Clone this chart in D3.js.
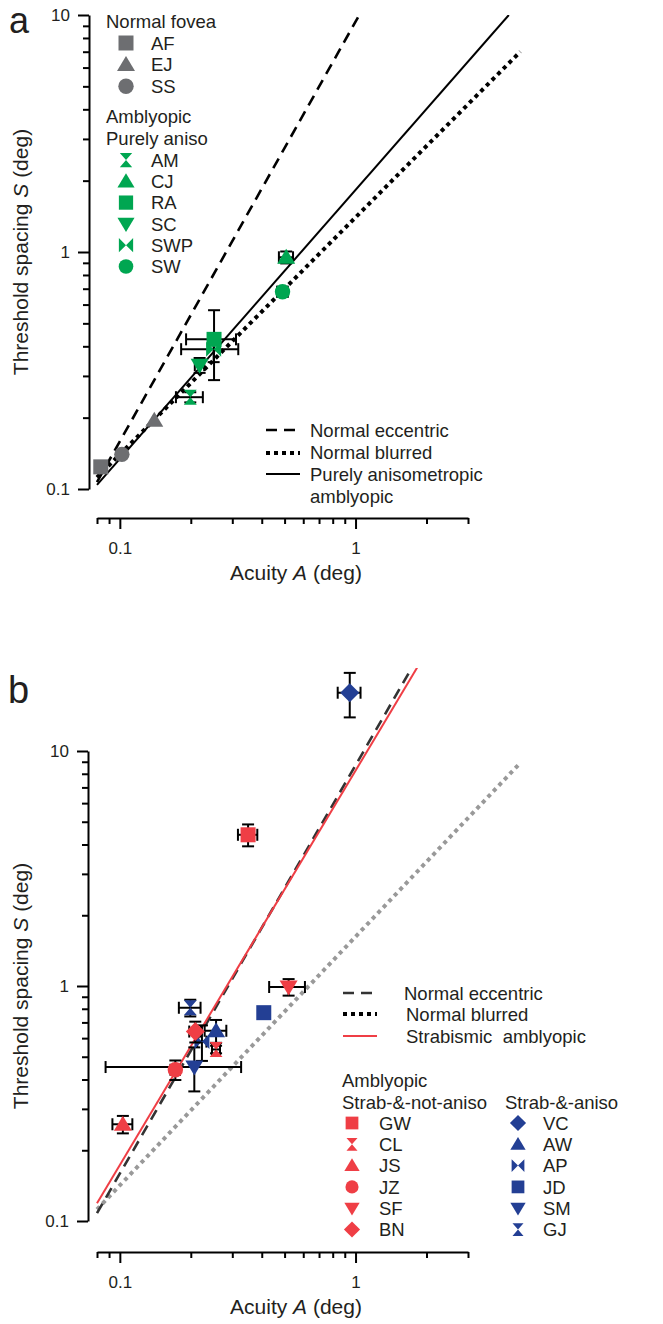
<!DOCTYPE html>
<html>
<head>
<meta charset="utf-8">
<script src="https://cdn.jsdelivr.net/npm/d3@7"></script>
<style>
  html, body { margin: 0; padding: 0; background: #fff; }
  svg { display: block; font-family: "Liberation Sans", Arial, Helvetica, sans-serif; }
</style>
</head>
<body>
<svg id="chart" width="663" height="1324"></svg>
<script>
// ---- data -------------------------------------------------------------
// Axis ticks
const majorTicks = [0.1, 1, 10];
const majorTickLabels = ["0.1", "1", "10"];
const xMinorTicks = [0.08, 0.09, 0.2, 0.3, 0.4, 0.5, 0.6, 0.7, 0.8, 0.9, 2, 3];
const yMinorTicks = [0.2, 0.3, 0.4, 0.5, 0.6, 0.7, 0.8, 0.9, 2, 3, 4, 5, 6, 7, 8, 9];

// Panel a: normal fovea
const foveaNames = ["AF", "EJ", "SS"];
const foveaShapes = ["square", "triangle", "circle"];
const foveaA = [0.083, 0.140, 0.102];
const foveaS = [0.124, 0.195, 0.140];

// Panel a: purely anisometropic amblyopes
const anisoNames = ["AM", "CJ", "RA", "SC", "SWP", "SW"];
const anisoShapes = ["hourglass", "triangle", "square", "triangleDown", "bowtie", "circle"];
const anisoA = [0.199, 0.508, 0.251, 0.218, 0.250, 0.490];
const anisoS = [0.244, 0.950, 0.428, 0.333, 0.389, 0.680];
const anisoErrA = [0.026, 0.035, 0.060, 0.010, 0.068, 0.025];
const anisoErrS = [0.012, 0.055, 0.140, 0.024, 0.046, 0.033];

// Panel b: strabismic, not anisometropic
const strabNames = ["GW", "CL", "JS", "JZ", "SF", "BN"];
const strabShapes = ["square", "hourglass", "triangle", "circle", "triangleDown", "diamond"];
const strabA = [0.350, 0.256, 0.103, 0.172, 0.520, 0.209];
const strabS = [4.40, 0.537, 0.258, 0.440, 0.990, 0.640];
const strabErrA = [0.033, 0.010, 0.010, 0.008, 0.090, 0.012];
const strabErrS = [0.470, 0.020, 0.022, 0.042, 0.080, 0.065];

// Panel b: strabismic and anisometropic
const strabAnisoNames = ["VC", "AW", "AP", "JD", "SM", "GJ"];
const strabAnisoShapes = ["diamond", "triangle", "bowtie", "square", "triangleDown", "hourglass"];
const strabAnisoA = [0.945, 0.256, 0.223, 0.408, 0.207, 0.199];
const strabAnisoS = [17.7, 0.645, 0.580, 0.770, 0.452, 0.808];
const strabAnisoErrA = [0.105, 0.027, 0.010, 0, 0.120, 0.021];
const strabAnisoErrS = [3.8, 0.072, 0.100, 0, 0.096, 0.066];

// Fitted lines (acuity, spacing end points)
const eccentricA = [0.08, 2.0];
const eccentricS = [0.107, 32.0];
const eccentricBA = [0.08, 2.0];
const eccentricBS = [0.108, 29.0];
const blurredA = [0.08, 5.0];
const blurredS = [0.112, 7.0];
const blurredBA = [0.08, 5.0];
const blurredBS = [0.112, 8.9];
const anisoLineA = [0.08, 4.47];
const anisoLineS = [0.104, 10.0];
const strabLineA = [0.08, 2.0];
const strabLineS = [0.119, 26.4];

// ---- styling ----------------------------------------------------------
const GREEN = "#00a651", GRAY = "#6d6e71", RED = "#ef3e45", BLUE = "#233f94";
const INK = "#231f20";
const LEGEND_FONT = 18.5;

const svg = d3.select("#chart");

// Marker outline for each shape, centred on 0,0
function shapePath(shape, k = 1) {
  const p = d3.path();
  const s = v => v * k;
  switch (shape) {
    case "square":
      p.rect(s(-7.5), s(-7.5), s(15), s(15)); break;
    case "circle":
      p.arc(0, 0, s(7.7), 0, 2 * Math.PI); break;
    case "triangle":
      p.moveTo(0, s(-8.5)); p.lineTo(s(9), s(6.5)); p.lineTo(s(-9), s(6.5)); p.closePath(); break;
    case "triangleDown":
      p.moveTo(0, s(8.5)); p.lineTo(s(9), s(-6.5)); p.lineTo(s(-9), s(-6.5)); p.closePath(); break;
    case "diamond":
      p.moveTo(0, s(-9.5)); p.lineTo(s(9.5), 0); p.lineTo(0, s(9.5)); p.lineTo(s(-9.5), 0); p.closePath(); break;
    case "hourglass":
      p.moveTo(s(-6.5), s(-7.5)); p.lineTo(s(6.5), s(-7.5)); p.lineTo(0, 0); p.closePath();
      p.moveTo(s(-6.5), s(7.5)); p.lineTo(s(6.5), s(7.5)); p.lineTo(0, 0); p.closePath(); break;
    case "bowtie":
      p.moveTo(s(-7.5), s(-7.5)); p.lineTo(s(-7.5), s(7.5)); p.lineTo(0, 0); p.closePath();
      p.moveTo(s(7.5), s(-7.5)); p.lineTo(s(7.5), s(7.5)); p.lineTo(0, 0); p.closePath(); break;
  }
  return p.toString();
}

const x = d3.scaleLog().domain([0.08, 3]).range([97, 468]);

function drawPanel(cfg) {
  const { y, yAxisX, xAxisY, clipTop, id } = cfg;
  const g = svg.append("g");

  // y axis
  g.append("g")
    .attr("transform", `translate(${yAxisX},0)`)
    .call(d3.axisLeft(y).tickValues(yMinorTicks).tickSize(6).tickSizeOuter(0).tickFormat(""))
    .call(a => a.select(".domain").remove());
  g.append("g")
    .attr("transform", `translate(${yAxisX},0)`)
    .call(d3.axisLeft(y).tickValues(majorTicks).tickSize(11).tickSizeOuter(0)
      .tickFormat((d, i) => majorTickLabels[i]).tickPadding(8))
    .call(a => a.selectAll("text").attr("font-size", 17).attr("fill", INK).attr("font-family", null));

  // x axis
  g.append("g")
    .attr("transform", `translate(0,${xAxisY})`)
    .call(d3.axisBottom(x).tickValues(xMinorTicks).tickSize(6).tickSizeOuter(0).tickFormat(""))
    .call(a => a.select(".domain").remove());
  g.append("g")
    .attr("transform", `translate(0,${xAxisY})`)
    .call(d3.axisBottom(x).tickValues(majorTicks.slice(0, 2)).tickSize(11).tickSizeOuter(0)
      .tickFormat((d, i) => majorTickLabels[i]).tickPadding(13))
    .call(a => a.selectAll("text").attr("font-size", 17).attr("fill", INK).attr("font-family", null));

  g.selectAll(".domain, .tick line").attr("stroke", "#000").attr("stroke-width", 2);

  // axis titles
  const xt = g.append("text")
    .attr("x", 296).attr("y", xAxisY + 62)
    .attr("text-anchor", "middle").attr("font-size", 21).attr("fill", INK);
  xt.append("tspan").text("Acuity ");
  xt.append("tspan").attr("font-style", "italic").text("A");
  xt.append("tspan").text(" (deg)");

  const ymid = (y.range()[0] + y.range()[1]) / 2;
  const yt = g.append("text")
    .attr("transform", `translate(28,${ymid}) rotate(-90)`)
    .attr("text-anchor", "middle").attr("font-size", 21).attr("fill", INK);
  yt.append("tspan").text("Threshold spacing ");
  yt.append("tspan").attr("font-style", "italic").text("S");
  yt.append("tspan").text(" (deg)");

  // clip for fitted lines
  svg.append("clipPath").attr("id", id)
    .append("rect").attr("x", 0).attr("y", clipTop).attr("width", 663).attr("height", 1324);

  return g;
}

function drawLine(g, As, Ss, y, style, clipId) {
  const pts = As.map((a, i) => [a, Ss[i]]);
  const line = d3.line().x(d => x(d[0])).y(d => y(d[1]));
  g.append("path")
    .attr("d", line(pts))
    .attr("clip-path", `url(#${clipId})`)
    .attr("fill", "none")
    .attr("stroke", style.color)
    .attr("stroke-width", style.width)
    .attr("stroke-dasharray", style.dash || null);
}

function drawPoints(g, names, shapes, As, Ss, errA, errS, y, color) {
  const data = names.map((n, i) => ({ n, shape: shapes[i], A: As[i], S: Ss[i],
    eA: errA ? errA[i] : 0, eS: errS ? errS[i] : 0 }));
  const cap = 6;
  const eb = g.append("g").attr("stroke", "#000").attr("stroke-width", 2).attr("fill", "none");
  data.forEach(d => {
    const cx = x(d.A), cy = y(d.S);
    if (d.eA > 0) {
      const x0 = x(d.A - d.eA), x1 = x(d.A + d.eA);
      eb.append("line").attr("x1", x0).attr("x2", x1).attr("y1", cy).attr("y2", cy);
      eb.append("line").attr("x1", x0).attr("x2", x0).attr("y1", cy - cap).attr("y2", cy + cap);
      eb.append("line").attr("x1", x1).attr("x2", x1).attr("y1", cy - cap).attr("y2", cy + cap);
    }
    if (d.eS > 0) {
      const y0 = y(d.S - d.eS), y1 = y(d.S + d.eS);
      eb.append("line").attr("x1", cx).attr("x2", cx).attr("y1", y0).attr("y2", y1);
      eb.append("line").attr("x1", cx - cap).attr("x2", cx + cap).attr("y1", y0).attr("y2", y0);
      eb.append("line").attr("x1", cx - cap).attr("x2", cx + cap).attr("y1", y1).attr("y2", y1);
    }
  });
  g.append("g").selectAll("path").data(data).join("path")
    .attr("transform", d => `translate(${x(d.A)},${y(d.S)})`)
    .attr("d", d => shapePath(d.shape))
    .attr("fill", color);
}

function legendItems(g, names, shapes, color, x0, tx, y0, dy, k) {
  names.forEach((n, i) => {
    const yy = y0 + i * dy;
    g.append("path").attr("transform", `translate(${x0},${yy})`)
      .attr("d", shapePath(shapes[i], k)).attr("fill", color);
    g.append("text").attr("x", tx).attr("y", yy).attr("dy", "0.36em")
      .attr("font-size", LEGEND_FONT).attr("fill", INK).text(n);
  });
}

function legendText(g, x0, y0, txt, size = LEGEND_FONT) {
  g.append("text").attr("x", x0).attr("y", y0).attr("dy", "0.36em")
    .attr("font-size", size).attr("fill", INK).style("white-space", "pre").text(txt);
}

function legendLine(g, x0, x1, yy, style) {
  g.append("line").attr("x1", x0).attr("x2", x1).attr("y1", yy).attr("y2", yy)
    .attr("stroke", style.color).attr("stroke-width", style.width)
    .attr("stroke-dasharray", style.dash || null);
}

// ---- panel a ----------------------------------------------------------
const ya = d3.scaleLog().domain([0.1, 10]).range([489, 15]);
const ga = drawPanel({ y: ya, yAxisX: 89, xAxisY: 518, clipTop: 15, id: "clipA" });

svg.append("text").attr("x", 9).attr("y", 33).attr("font-size", 36).attr("fill", INK).text("a");

const dashA = { color: "#000", width: 2.6, dash: "11,7" };
const dotA = { color: "#000", width: 4, dash: "4,4" };
const solidA = { color: "#000", width: 2 };
drawLine(ga, eccentricA, eccentricS, ya, dashA, "clipA");
drawLine(ga, blurredA, blurredS, ya, dotA, "clipA");
drawLine(ga, anisoLineA, anisoLineS, ya, solidA, "clipA");

drawPoints(ga, foveaNames, foveaShapes, foveaA, foveaS, null, null, ya, GRAY);
drawPoints(ga, anisoNames, anisoShapes, anisoA, anisoS, anisoErrA, anisoErrS, ya, GREEN);

legendText(ga, 106, 21, "Normal fovea");
legendItems(ga, foveaNames, foveaShapes, GRAY, 126, 151, 43, 21.6, 1);
legendText(ga, 106, 116, "Amblyopic");
legendText(ga, 106, 138, "Purely aniso");
legendItems(ga, anisoNames, anisoShapes, GREEN, 126, 151, 160, 21.3, 0.95);

legendLine(ga, 266, 300, 430, dashA);
legendLine(ga, 266, 300, 453, dotA);
legendLine(ga, 266, 300, 474, solidA);
legendText(ga, 310, 430, "Normal eccentric");
legendText(ga, 310, 452, "Normal blurred");
legendText(ga, 310, 474, "Purely anisometropic");
legendText(ga, 310, 496, "amblyopic");

// ---- panel b ----------------------------------------------------------
const yb = d3.scaleLog().domain([0.1, 10]).range([1221, 751]);
const gb = drawPanel({ y: yb, yAxisX: 88, xAxisY: 1252, clipTop: 668, id: "clipB" });

svg.append("text").attr("x", 8).attr("y", 703).attr("font-size", 38).attr("fill", INK).text("b");

const dashB = { color: "#333", width: 2.6, dash: "11,7" };
const dotB = { color: "#999", width: 4, dash: "4,4" };
const dotBLegend = { color: "#000", width: 4, dash: "4,4" };
const redB = { color: RED, width: 2 };
drawLine(gb, blurredBA, blurredBS, yb, dotB, "clipB");
drawLine(gb, eccentricBA, eccentricBS, yb, dashB, "clipB");
drawLine(gb, strabLineA, strabLineS, yb, redB, "clipB");

drawPoints(gb, strabAnisoNames, strabAnisoShapes, strabAnisoA, strabAnisoS, strabAnisoErrA, strabAnisoErrS, yb, BLUE);
drawPoints(gb, strabNames, strabShapes, strabA, strabS, strabErrA, strabErrS, yb, RED);

legendLine(gb, 343, 377, 993, dashB);
legendLine(gb, 343, 377, 1014, dotBLegend);
legendLine(gb, 343, 377, 1036, redB);
legendText(gb, 404, 993, "Normal eccentric");
legendText(gb, 406, 1014, "Normal blurred");
legendText(gb, 406, 1036, "Strabismic  amblyopic");

legendText(gb, 342, 1080, "Amblyopic");
legendText(gb, 342, 1102, "Strab-&-not-aniso");
legendText(gb, 505, 1102, "Strab-&-aniso");
legendItems(gb, strabNames, strabShapes, RED, 352, 379, 1123, 21.3, 0.85);
legendItems(gb, strabAnisoNames, strabAnisoShapes, BLUE, 518, 543, 1123, 21.3, 0.85);
</script>
</body>
</html>
